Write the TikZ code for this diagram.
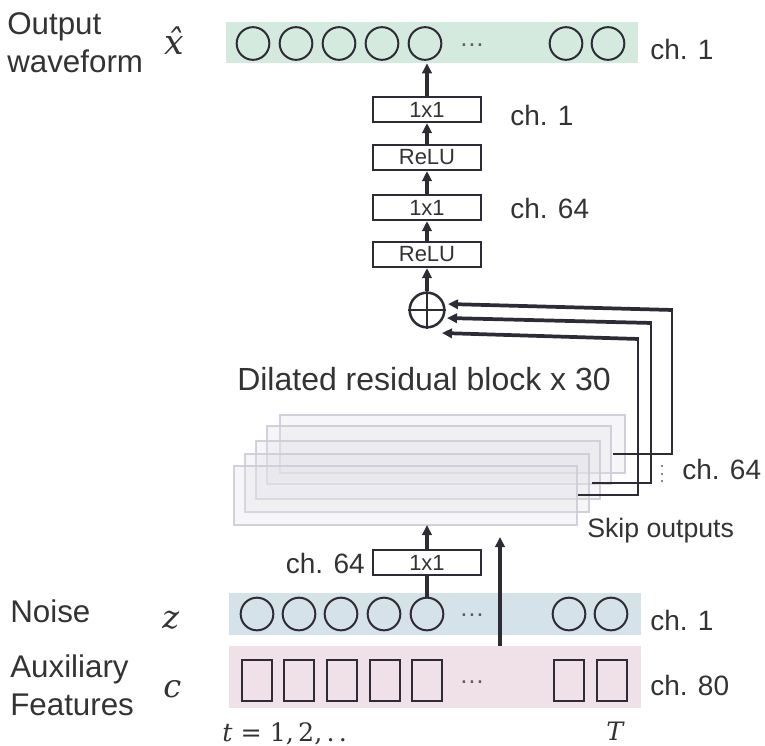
\documentclass[tikz,border=0pt]{standalone}
\usepackage{fontspec}
\setmainfont{Liberation Sans}
\newfontfamily\mathlikefont{DejaVu Serif}
\usetikzlibrary{arrows.meta}
\definecolor{txt}{HTML}{333333}
\definecolor{ln}{HTML}{2F2B36}
\definecolor{grn}{HTML}{D4EADF}
\definecolor{blu}{HTML}{D6E2EA}
\definecolor{pnk}{HTML}{F0E1E8}
\definecolor{stkfill}{HTML}{E2E2E8}
\definecolor{stkdraw}{HTML}{D0CBD8}
\begin{document}
\begin{tikzpicture}[x=0.75pt,y=-0.75pt,
  lbl/.style={inner sep=0pt, anchor=base west, text=txt, font=\fontsize{23.5}{28}\selectfont},
  chl/.style={inner sep=0pt, anchor=base west, text=txt, font=\fontsize{21}{25}\selectfont},
  mth/.style={inner sep=0pt, anchor=base west, text=txt, font=\mathlikefont\fontsize{24}{28}\selectfont},
  opbox/.style={draw=ln, line width=1.9pt, minimum width=81pt, minimum height=18.5pt, inner sep=0pt, text=txt, font=\fontsize{16.5}{18}\selectfont, fill=white},
  cell/.style={circle, draw=ln, line width=1.5pt, minimum size=24.5pt, inner sep=0pt},
  sqcell/.style={draw=ln, line width=1.5pt, minimum width=22.5pt, minimum height=30.75pt, inner sep=0pt},
  band/.style={minimum width=309pt, inner sep=0pt},
  stk/.style={draw=stkdraw, line width=1.5pt, fill=stkfill, fill opacity=0.3, draw opacity=0.9},
  arr/.style={draw=ln, line width=2.8pt, -{Triangle[length=7.5pt,width=7pt]}},
  skipline/.style={draw=ln, line width=1.9pt},
  dotsl/.style={inner sep=0pt, anchor=base, text=txt!80, font=\fontsize{19}{20}\selectfont}
]
\useasboundingbox (0,0) rectangle (765,746);

% ---------- output band ----------
\node[band, fill=grn, minimum height=30.75pt] (gband) at (432,42.5) {};
\foreach \i/\x in {1/253,2/296,3/339,4/382,5/425,6/566,7/608}
  \node[cell] (o\i) at (\x,43.5) {};
\node[dotsl] (odots) at (472,46) {\ldots};
\node[chl] (chout) at (650,60) {ch. 1};
\node[lbl] (outl1) at (7,35) {Output};
\node[lbl] (outl2) at (7,72) {waveform};
\node[mth, font=\mathlikefont\fontsize{26}{30}\selectfont] (xhat) at (164,55) {\itshape\^{x}};

% ---------- output stack ----------
\node[opbox] (c2) at (427,109.5) {1x1};
\node[opbox] (r2) at (427,157.5) {ReLU};
\node[opbox] (c1) at (427,207.5) {1x1};
\node[opbox] (r1) at (427,254.5) {ReLU};
\node[chl] (chc2) at (510,125) {ch. 1};
\node[chl] (chc1) at (510,218) {ch. 64};

\node[circle, draw=ln, line width=1.9pt, minimum size=26pt, inner sep=0pt] (plus) at (427,310) {};
\draw[ln, line width=1.9pt] (plus.north) -- (plus.south) (plus.west) -- (plus.east);

\draw[arr] (plus.north) -- (r1.south);
\draw[arr] (r1.north) -- (c1.south);
\draw[arr] (c1.north) -- (r2.south);
\draw[arr] (r2.north) -- (c2.south);
\draw[arr] (c2.north) -- (c2.north |- gband.south);

% ---------- residual block stack ----------
\node[lbl, font=\fontsize{24}{28}\selectfont] (dil) at (237,390) {Dilated residual block x 30};
\path[stk] (280,415) rectangle (625,473) coordinate (stk1);
\path[stk] (267,426) rectangle (611,484) coordinate (stk2);
\path[stk] (256,441) rectangle (600,499) coordinate (stk3);
\path[stk] (245,454) rectangle (589,512) coordinate (stk4);
\path[stk] (234,466) rectangle (577,525) coordinate (stk5);
\coordinate (stkbot) at (427,525);

% skip connections
\coordinate (k1) at (672,310); \coordinate (t1) at (448,304);
\coordinate (k2) at (651,323); \coordinate (t2) at (447,318);
\coordinate (k3) at (638,339); \coordinate (t3) at (442,333);
\coordinate (e1) at (613,454);
\coordinate (e2) at (592,483);
\coordinate (e3) at (578,495);
\draw[skipline] (k1) |- (e1);
\draw[skipline] (k2) |- (e2);
\draw[skipline] (k3) |- (e3);
\draw[arr] ([xshift=0.7pt]k1) -- (t1);
\draw[arr] ([xshift=0.7pt]k2) -- (t2);
\draw[arr] ([xshift=0.7pt]k3) -- (t3);
\foreach \y in {466,474,481} \fill[txt!80] (662,\y) circle (1.1);
\node[chl] (chskip) at (682,479) {ch. 64};
\node[chl, font=\fontsize{20}{24}\selectfont] (skipl) at (587,537) {Skip outputs};

% ---------- input side ----------
\node[opbox] (b1) at (427,562.5) {1x1};
\node[chl, anchor=base east] (chb1) at (365,573) {ch. 64};
\draw[arr] (b1.north) -- (stkbot);

\node[band, fill=blu, minimum height=31.5pt] (nband) at (435,614) {};
\foreach \i/\x in {1/257,2/299,3/341,4/384,5/427,6/569,7/611}
  \node[cell] (n\i) at (\x,614) {};
\node[dotsl] (ndots) at (472,616) {\ldots};
\node[chl] (chn) at (650,630) {ch. 1};
\node[lbl] (noisel) at (10,622) {Noise};
\node[mth] (zl) at (162,628) {\itshape z};

\node[band, fill=pnk, minimum height=46.5pt] (pband) at (435,677) {};
\foreach \i/\x in {1/257,2/299,3/342,4/385,5/427,6/569,7/612}
  \node[sqcell] (f\i) at (\x,680.5) {};
\node[dotsl] (pdots) at (472,683) {\ldots};
\node[chl] (chp) at (650,695) {ch. 80};
\node[lbl] (auxl1) at (10,677) {Auxiliary};
\node[lbl] (auxl2) at (10,715) {Features};
\node[mth] (cl) at (163,697) {\itshape c};
\node[mth, font=\mathlikefont\fontsize{19}{22}\selectfont] (tl) at (222,741) {\textit{t} = 1,\,2,\,.\,.};
\node[mth, font=\mathlikefont\fontsize{19}{22}\selectfont] (Tl) at (606,740) {\itshape T};

\draw[draw=ln, line width=2.8pt] (n5.north) -- (b1.south);
\coordinate (ltip) at (500,537);
\draw[arr] (pband.north -| ltip) -- (ltip);
\end{tikzpicture}
\end{document}
